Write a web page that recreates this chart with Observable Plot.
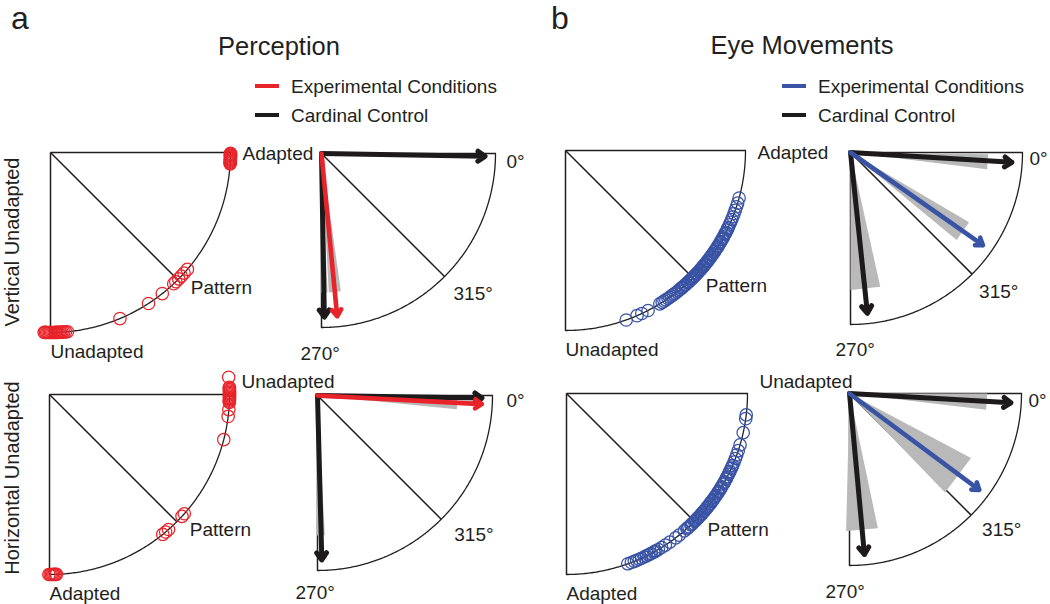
<!DOCTYPE html>
<html>
<head>
<meta charset="utf-8">
<script src="https://cdn.jsdelivr.net/npm/d3@7"></script>
<script src="https://cdn.jsdelivr.net/npm/@observablehq/plot@0.6"></script>
<style>
  body { margin: 0; background: #fff; }
  #fig { position: relative; width: 1050px; height: 604px; overflow: hidden; background: #fff;
         font-family: "Liberation Sans", Arial, Helvetica, sans-serif; color: #231f20; }
  .abs { position: absolute; white-space: nowrap; }
</style>
</head>
<body>
<div id="fig"></div>
<script>
// ---------------- data ----------------
const panelLetters = ["a", "b"];
const sectionTitles = ["Perception", "Eye Movements"];
const legendLabels = ["Experimental Conditions", "Cardinal Control"];
const rowLabels = ["Vertical Unadapted", "Horizontal Unadapted"];
const experimentalColors = ["#e8232a", "#3953a5"];   // perception, eye movements

// tick directions (deg) of the quarter-circle frame and their labels
const tickAngles = [0, -45, -90];
const vertStateLabels = ["Adapted", "Pattern", "Unadapted"];
const horizStateLabels = ["Unadapted", "Pattern", "Adapted"];
const angleLabels = ["0°", "315°", "270°"];

// single-trial perceived / eye-movement directions (deg, 0 = right, -90 = down)
const percVertTrialAngles = [-0.3, -0.6, -0.9, -1.2, -1.5, -1.8, -2.1, -2.4, -2.7, -3.0, -3.3, -3.6,
  -67.3, -57, -51.6, -46.8, -45.9, -44.6, -43.4, -42.1, -40.5,
  -92.0, -91.6, -91.2, -90.8, -90.4, -90.0, -89.6, -89.2, -88.8, -88.4, -88.0, -87.6, -87.2, -86.8, -86.3, -85.8, -85.2, -84.6];
const percHorizTrialAngles = [5.5, 2.3, 1.9, 1.5, 1.1, 0.7, 0.3, -0.1, -0.5, -0.9, -1.3, -1.7, -2.1, -2.5, -4.8, -7, -14.5,
  -41.5, -42.6, -48.6, -49.8, -51,
  -90.2, -89.8, -89.4, -89.0, -88.6, -88.2, -87.8];
const eyeVertTrialAngles = [-70.3, -66.6, -64.9, -62.7, -58.4, -57.5, -56.8, -56.1, -55.3, -54.6, -54.0, -53.2, -52.5,
  -51.8, -51.2, -50.5, -49.9, -49.6, -49.2, -48.6, -48.3, -48.0, -47.3, -47.0, -46.8, -46.2, -45.6, -45.3, -45.0,
  -44.5, -44.2, -44.0, -43.4, -43.1, -42.9, -42.3, -41.8, -41.5, -41.2, -40.6, -40.3, -40.0, -39.5, -39.2, -38.9,
  -38.3, -38.0, -37.6, -37.0, -36.6, -36.3, -35.7, -35.3, -35.0, -34.3, -34.0, -33.5, -32.8, -32.4, -32.0, -31.2,
  -30.8, -30.4, -29.6, -29.2, -28.7, -27.9, -27.5, -27.0, -26.2, -25.8, -25.3, -24.4, -23.5, -22.6, -21.6,
  -20.5, -19.4, -18.2, -17.0, -15.3];
const eyeHorizTrialAngles = [-70.2, -69.0, -68.0, -67.2, -66.3, -65.5, -64.6, -63.8, -63.0, -62.5, -62.1, -61.2, -60.8, -60.4,
  -59.5, -58.3, -56.9, -55.2, -52.9, -51.5, -49.4, -48.3, -47.9, -47.4, -46.6, -46.2, -45.8, -45.0, -44.6, -44.3,
  -43.6, -43.2, -42.9, -42.2, -41.8, -41.5, -40.8, -40.4, -40.1, -39.4, -39.0, -38.7, -38.0, -37.6, -37.3, -36.6,
  -36.2, -35.8, -35.0, -34.6, -34.2, -33.4, -33.0, -32.6, -31.8, -31.4, -31.0, -30.1, -29.6, -29.2, -28.3, -27.9,
  -27.4, -26.5, -26.0, -25.5, -24.5, -24.0, -23.4, -22.3, -21.1, -19.8, -18.4, -16.5, -12.5, -8.0, -6.8];

// mean directions with spread: [experimental, cardinal 0°, cardinal 270°]
const arrowConditions = ["Experimental", "Cardinal 0°", "Cardinal 270°"];
const percVertMean = [275.5, -1, 271];
const percVertLow  = [273, -1.5, 269.5];
const percVertHigh = [278, -0.5, 272.5];
const percHorizMean = [-3, -0.9, 271.5];
const percHorizLow  = [-5.6, -1.5, 269.5];
const percHorizHigh = [-1, -0.3, 273];
const eyeVertMean = [-35, -3.5, 276];
const eyeVertLow  = [-39.5, -7, 270];
const eyeVertHigh = [-30.5, -0.7, 282.5];
const eyeHorizMean = [-36.6, -3.3, 275.3];
const eyeHorizLow  = [-46, -6.8, 268.6];
const eyeHorizHigh = [-28, 0, 281.9];

// ---------------- helpers ----------------
const fig = document.getElementById("fig");
const FONT = '"Liberation Sans", Arial, Helvetica, sans-serif';
const INK = "#231f20";
const GRAY = "#b9b9b9";
const rad = a => a * Math.PI / 180;
const ux = a => Math.cos(rad(a));
const uy = a => Math.sin(rad(a));
const arcAngles = d3.range(0, -90.01, -0.5);

// line-height 0.8: baseline sits 0.7465 em below the box top
function addText(txt, {left, baseline, size, anchor = "start"}) {
  const d = document.createElement("div");
  d.className = "abs";
  d.textContent = txt;
  d.style.fontSize = size + "px";
  d.style.lineHeight = "0.8";
  d.style.left = left + "px";
  d.style.top = (baseline - 0.7465 * size) + "px";
  if (anchor === "middle") d.style.transform = "translateX(-50%)";
  fig.appendChild(d);
}
// rotated label: baseline lands at x = cx + 0.3465 * size
function addRowLabel(txt, cx, cy, size) {
  const w = 230;
  const d = document.createElement("div");
  d.className = "abs";
  d.textContent = txt;
  Object.assign(d.style, {fontSize: size + "px", lineHeight: "0.8", width: w + "px", textAlign: "center",
    left: (cx - w / 2) + "px", top: (cy - 0.4 * size) + "px", transform: "rotate(-90deg)"});
  fig.appendChild(d);
}
function addSwatch(color, left, y) {
  const d = document.createElement("div");
  d.className = "abs";
  Object.assign(d.style, {left: left + "px", top: (y - 2.3) + "px", width: "24px", height: "4.6px", background: color});
  fig.appendChild(d);
}

function frameMarks() {
  return [
    Plot.line(arcAngles, {x: ux, y: uy, stroke: INK, strokeWidth: 1.3}),
    Plot.link(tickAngles, {x1: () => 0, y1: () => 0, x2: ux, y2: uy, stroke: INK, strokeWidth: 1.5})
  ];
}
function labelMarks(labels, offsets) {
  return tickAngles.map((a, i) => Plot.text([a], {
    x: ux, y: uy, text: () => labels[i], dx: offsets[i][0], dy: offsets[i][1],
    textAnchor: "start", fontSize: 19, fill: INK, fontFamily: FONT
  }));
}
function placePanel(marks, cx, cy, R) {
  const M = 40;
  const svg = Plot.plot({
    width: R + 2 * M, height: R + 2 * M,
    marginLeft: M, marginRight: M, marginTop: M, marginBottom: M,
    x: {domain: [0, 1], axis: null},
    y: {domain: [-1, 0], axis: null},
    style: {overflow: "visible", background: "transparent", fontFamily: FONT},
    marks
  });
  svg.style.position = "absolute";
  svg.style.left = (cx - M) + "px";
  svg.style.top = (cy - M) + "px";
  svg.style.maxWidth = "none";
  fig.appendChild(svg);
}
function circlePanel({cx, cy, R, angles, color, labels, topDy}) {
  placePanel([
    ...frameMarks(),
    Plot.dot(angles, {x: ux, y: uy, r: 6.2, stroke: color, strokeWidth: 1.25, fill: "none"}),
    ...labelMarks(labels, [[12, topDy], [13, 8], [0, 19]])
  ], cx, cy, R);
}
function arrowPanel({cx, cy, R, mean, low, high, color, offsets}) {
  const wedgeR = 0.8, arrowR = 0.94;
  const wedges = arrowConditions.flatMap((c, i) => [
    {c, x: 0, y: 0},
    {c, x: wedgeR * ux(low[i]), y: wedgeR * uy(low[i])},
    {c, x: wedgeR * ux(high[i]), y: wedgeR * uy(high[i])}
  ]);
  const idx = arrowConditions.map((c, i) => i);
  const black = idx.filter(i => i > 0), exp = idx.filter(i => i === 0);
  const arrowOpts = (stroke, sw) => ({
    x1: () => 0, y1: () => 0,
    x2: i => arrowR * ux(mean[i]), y2: i => arrowR * uy(mean[i]),
    stroke, strokeWidth: sw, headLength: 2.6, headAngle: 70, strokeLinejoin: "round"
  });
  placePanel([
    ...frameMarks(),
    Plot.line(wedges, {x: "x", y: "y", z: "c", fill: GRAY, stroke: "none"}),
    Plot.arrow(black, arrowOpts("#1c1a1a", 5)),
    Plot.arrow(exp, arrowOpts(color, 4.6)),
    ...labelMarks(angleLabels, offsets)
  ], cx, cy, R);
}

// ---------------- headings & legends ----------------
addText(panelLetters[0], {left: 11, baseline: 29.5, size: 32});
addText(panelLetters[1], {left: 551, baseline: 29.5, size: 32});
addText(sectionTitles[0], {left: 279, baseline: 55, size: 25.5, anchor: "middle"});
addText(sectionTitles[1], {left: 802, baseline: 54, size: 25.5, anchor: "middle"});
[[255, 291, experimentalColors[0]], [782, 818, experimentalColors[1]]].forEach(([sx, tx, col]) => {
  addSwatch(col, sx, 86);
  addSwatch("#1c1a1a", sx, 115);
  addText(legendLabels[0], {left: tx, baseline: 93, size: 19});
  addText(legendLabels[1], {left: tx, baseline: 122, size: 19});
});
addRowLabel(rowLabels[0], 11.7, 242, 20);
addRowLabel(rowLabels[1], 11.7, 478, 20);

// ---------------- panels ----------------
circlePanel({cx: 50, cy: 152, R: 180, angles: percVertTrialAngles, color: experimentalColors[0], labels: vertStateLabels, topDy: 1});
arrowPanel({cx: 321, cy: 153, R: 174, mean: percVertMean, low: percVertLow, high: percVertHigh, color: experimentalColors[0],
  offsets: [[11, 8], [9, 17], [-21, 26]]});
circlePanel({cx: 565, cy: 150, R: 180, angles: eyeVertTrialAngles, color: experimentalColors[1], labels: vertStateLabels, topDy: 2});
arrowPanel({cx: 850, cy: 152, R: 172, mean: eyeVertMean, low: eyeVertLow, high: eyeVertHigh, color: experimentalColors[1],
  offsets: [[7, 6], [7, 18], [-15, 25]]});
circlePanel({cx: 49, cy: 394, R: 180, angles: percHorizTrialAngles, color: experimentalColors[0], labels: horizStateLabels, topDy: -13});
arrowPanel({cx: 317, cy: 395, R: 175, mean: percHorizMean, low: percHorizLow, high: percHorizHigh, color: experimentalColors[0],
  offsets: [[14, 5], [13, 16], [-22, 22]]});
circlePanel({cx: 566, cy: 393, R: 181, angles: eyeHorizTrialAngles, color: experimentalColors[1], labels: horizStateLabels, topDy: -12});
arrowPanel({cx: 849, cy: 393, R: 172, mean: eyeHorizMean, low: eyeHorizLow, high: eyeHorizHigh, color: experimentalColors[1],
  offsets: [[7, 7], [11, 15], [-24, 26]]});
</script>
</body>
</html>
